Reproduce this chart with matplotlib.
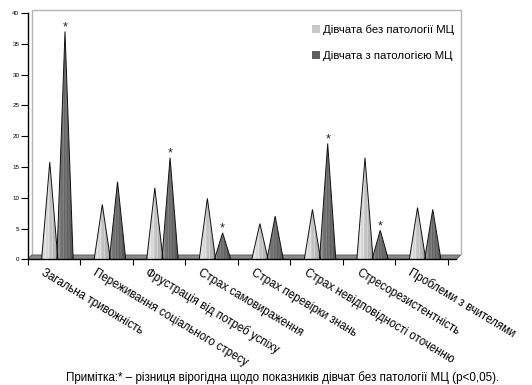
import numpy as np
import matplotlib
matplotlib.use("Agg")
import matplotlib.pyplot as plt
from matplotlib.patches import Polygon, Patch

plt.rcParams['font.family'] = ['Liberation Sans', 'DejaVu Sans']

categories = ["Загальна тривожність", "Переживання соціального стресу",
              "Фрустрація від потреб успіху", "Страх самовираження",
              "Страх перевірки знань", "Страх невідповідності оточенню",
              "Стресорезистентність", "Проблеми з вчителями"]
no_path = [15.8, 8.9, 11.6, 9.9, 5.8, 8.1, 16.5, 8.4]
with_path = [37.0, 12.6, 16.5, 4.3, 7.0, 18.8, 4.7, 8.1]
significant = [True, False, True, True, False, True, True, False]
series_names = ["Дівчата без патології МЦ", "Дівчата з патологією МЦ"]
y_ticks = [0, 5, 10, 15, 20, 25, 30, 35, 40]
note = "Примітка:* – різниця вірогідна щодо показників дівчат без патології МЦ (р<0,05)."

W, H = 532, 385
fig = plt.figure(figsize=(W / 100, H / 100), dpi=100)
x0, x1 = 27.7, 448.0
yb, yt = 259.3, 13.0
ax = fig.add_axes([x0 / W, 1 - yb / H, (x1 - x0) / W, (yb - yt) / H])
ax.set_xlim(0, 8)
ax.set_ylim(0, 40)

# 3D-like back wall and floor
dx = 0.076
dy = 0.7
wall = Polygon([(dx, dy), (dx, 40.5), (8.24, 40.5), (8.24, dy)], closed=False,
               fill=False, edgecolor='#b4b4b4', linewidth=1.0, clip_on=False, zorder=1)
ax.add_patch(wall)
floor = Polygon([(0, 0), (dx, dy), (8.24, dy), (8.16, 0)], closed=True,
                facecolor='#8a8a8a', edgecolor='#555555', linewidth=0.6,
                clip_on=False, zorder=2)
ax.add_patch(floor)

hw = 0.155
offs = [0.42, 0.71]
grad_light = np.array([[0.80, 0.86, 0.90, 0.84, 0.88, 0.80, 0.76, 0.82, 0.72, 0.70, 0.66, 0.62]])
grad_dark = np.array([[0.52, 0.56, 0.48, 0.44, 0.50, 0.40, 0.45, 0.38, 0.42, 0.36, 0.34, 0.30]])
for i in range(len(categories)):
    for s, (vals, grad) in enumerate([(no_path, grad_light), (with_path, grad_dark)]):
        cx = i + offs[s]
        v = vals[i]
        tri = Polygon([(cx - hw, 0), (cx, v), (cx + hw, 0)], closed=True,
                      facecolor='none', edgecolor='#111111', linewidth=0.7, zorder=4)
        ax.add_patch(tri)
        im = ax.imshow(grad, cmap='gray', vmin=0, vmax=1, aspect='auto',
                       extent=(cx - hw, cx + hw, 0, v), interpolation='nearest', zorder=3)
        im.set_clip_path(tri)
    if significant[i]:
        ax.text(i + offs[1], with_path[i] - 0.3, "*", ha='center', va='bottom',
                fontsize=9, color='#222222', zorder=5)

ax.set_xlim(0, 8)
ax.set_ylim(0, 40)

for sp in ['top', 'right']:
    ax.spines[sp].set_visible(False)
ax.spines['left'].set_linewidth(1.0)
ax.spines['bottom'].set_linewidth(1.0)
ax.spines['bottom'].set_bounds(0, 8.16)
ax.set_yticks(y_ticks)
ax.set_yticklabels([str(t) for t in y_ticks], fontsize=4.5)
ax.tick_params(axis='y', length=5, width=0.8, pad=1)
ax.set_xticks(np.arange(0, 9))
ax.set_xticklabels([])
ax.tick_params(axis='x', length=4, width=0.8)

for i, c in enumerate(categories):
    ax.annotate(c, xy=(i + 0.33, 0), xycoords='data', xytext=(0, -5), textcoords='offset points',
                rotation=-31, rotation_mode='anchor', ha='left', va='top', fontsize=8.3,
                annotation_clip=False)

handles = [Patch(facecolor='#c8c8c8', edgecolor='none'),
           Patch(facecolor='#5e5e5e', edgecolor='none')]
fig.legend(handles, series_names, loc='upper left', bbox_to_anchor=(306 / W, 1 - 19 / H),
           frameon=False, fontsize=8.2, handlelength=0.7, handleheight=0.7,
           handletextpad=0.3, labelspacing=1.35, borderpad=0)

fig.text(283 / W, 1 - 378 / H, note, ha='center', va='center', fontsize=8.4)

fig.savefig("out.png", dpi=100)
